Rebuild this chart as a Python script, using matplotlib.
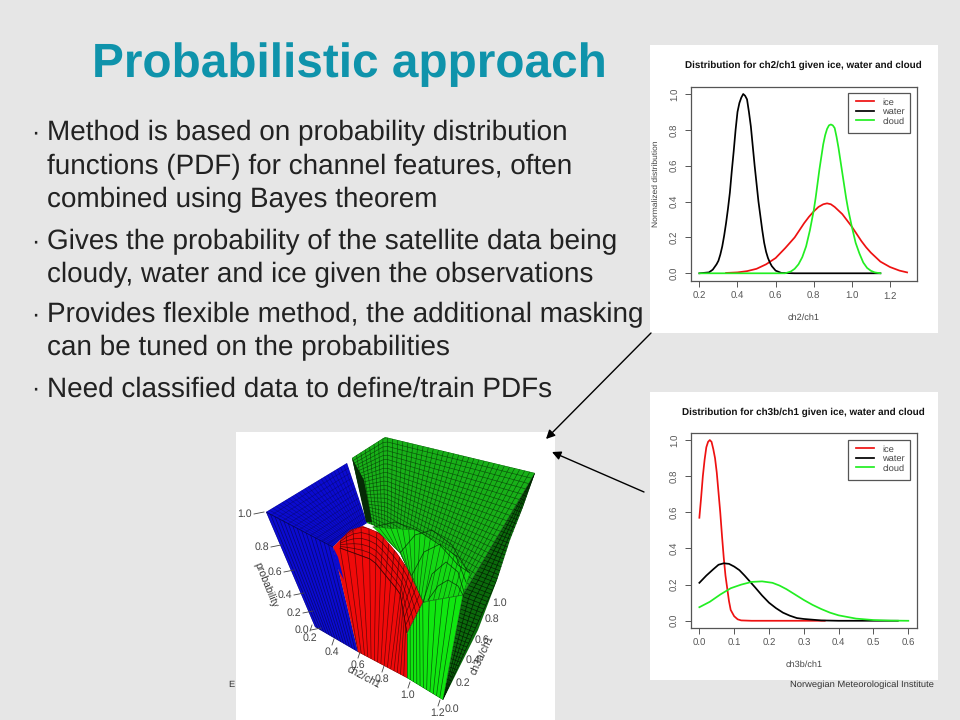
import numpy as np
import matplotlib
matplotlib.use("Agg")
import matplotlib.pyplot as plt
from matplotlib.patches import Polygon, Rectangle, FancyArrowPatch
from matplotlib.collections import LineCollection

plt.rcParams["font.family"] = ["Liberation Sans", "DejaVu Sans"]
plt.rcParams["text.hinting"] = "none"

## Slide text
titleText = "Probabilistic approach"
bodyLines = [
    ("\u00b7", "Method is based on probability distribution", 133),
    ("", "functions (PDF) for channel features, often", 167),
    ("", "combined using Bayes theorem", 200),
    ("\u00b7", "Gives the probability of the satellite data being", 242),
    ("", "cloudy, water and ice given the observations", 275),
    ("\u00b7", "Provides flexible method, the additional masking", 315),
    ("", "can be tuned on the probabilities", 348),
    ("\u00b7", "Need classified data to define/train PDFs", 389),
]

## Top chart, ch2/ch1
ch2Water_x = [0.2, 0.25, 0.27, 0.29, 0.3, 0.31, 0.32, 0.33, 0.34, 0.35, 0.36, 0.37, 0.38, 0.39, 0.4, 0.41, 0.42, 0.43, 0.44, 0.45, 0.46, 0.47, 0.48, 0.49, 0.5, 0.51, 0.52, 0.53, 0.54, 0.55, 0.56, 0.57, 0.58, 0.6, 0.63, 0.7, 1.15]
ch2Water_y = [0, 0.005, 0.02, 0.05, 0.07, 0.105, 0.15, 0.21, 0.28, 0.36, 0.45, 0.57, 0.68, 0.8, 0.9, 0.95, 0.98, 1.0, 0.99, 0.97, 0.9, 0.82, 0.71, 0.6, 0.5, 0.4, 0.32, 0.24, 0.17, 0.12, 0.085, 0.06, 0.04, 0.015, 0.002, 0, 0]
ch2Ice_x = [0.34, 0.4, 0.45, 0.5, 0.55, 0.6, 0.65, 0.7, 0.725, 0.75, 0.775, 0.8, 0.825, 0.85, 0.87, 0.89, 0.91, 0.93, 0.95, 0.975, 1.0, 1.025, 1.05, 1.075, 1.1, 1.15, 1.2, 1.25, 1.29]
ch2Ice_y = [0.002, 0.005, 0.012, 0.025, 0.05, 0.085, 0.14, 0.2, 0.24, 0.28, 0.315, 0.345, 0.37, 0.385, 0.39, 0.385, 0.37, 0.35, 0.33, 0.295, 0.26, 0.22, 0.18, 0.145, 0.115, 0.065, 0.035, 0.015, 0.005]
ch2Cloud_x = [0.2, 0.65, 0.68, 0.7, 0.72, 0.74, 0.76, 0.78, 0.8, 0.81, 0.82, 0.83, 0.84, 0.85, 0.86, 0.87, 0.88, 0.89, 0.9, 0.91, 0.92, 0.93, 0.94, 0.95, 0.96, 0.97, 0.98, 1.0, 1.02, 1.04, 1.06, 1.08, 1.1, 1.12, 1.15]
ch2Cloud_y = [0, 0, 0.01, 0.025, 0.05, 0.09, 0.15, 0.24, 0.35, 0.42, 0.5, 0.58, 0.65, 0.72, 0.77, 0.805, 0.825, 0.83, 0.825, 0.81, 0.76, 0.7, 0.63, 0.56, 0.49, 0.42, 0.36, 0.26, 0.17, 0.11, 0.06, 0.03, 0.014, 0.005, 0]

## Bottom chart, ch3b/ch1
ch3Ice_x = [0, 0.005, 0.01, 0.015, 0.02, 0.025, 0.03, 0.035, 0.04, 0.045, 0.05, 0.055, 0.06, 0.065, 0.07, 0.075, 0.08, 0.085, 0.09, 0.1, 0.11, 0.12, 0.15, 0.36]
ch3Ice_y = [0.57, 0.68, 0.8, 0.89, 0.96, 0.99, 1.0, 0.99, 0.95, 0.9, 0.82, 0.71, 0.6, 0.47, 0.35, 0.25, 0.18, 0.11, 0.06, 0.025, 0.008, 0.002, 0, 0]
ch3Water_x = [0, 0.02, 0.04, 0.055, 0.07, 0.085, 0.1, 0.115, 0.13, 0.16, 0.18, 0.2, 0.22, 0.24, 0.26, 0.28, 0.3, 0.35, 0.4, 0.57]
ch3Water_y = [0.21, 0.25, 0.285, 0.31, 0.318, 0.315, 0.3, 0.28, 0.25, 0.185, 0.14, 0.1, 0.07, 0.045, 0.028, 0.015, 0.01, 0.002, 0, 0]
ch3Cloud_x = [0, 0.03, 0.06, 0.09, 0.12, 0.15, 0.18, 0.21, 0.23, 0.25, 0.275, 0.3, 0.325, 0.35, 0.375, 0.4, 0.45, 0.5, 0.55, 0.6]
ch3Cloud_y = [0.075, 0.105, 0.145, 0.18, 0.2, 0.215, 0.218, 0.21, 0.195, 0.175, 0.145, 0.115, 0.088, 0.065, 0.045, 0.03, 0.012, 0.004, 0.001, 0]

## Tick labels of the 3D picture, as placed on the slide
probTicks = [("1.0", 245, 514), ("0.8", 262, 547), ("0.6", 275, 572), ("0.4", 285, 595), ("0.2", 294, 613), ("0.0", 302, 630)]
ch2Ticks = [("0.2", 310, 638), ("0.4", 332, 652), ("0.6", 358, 665), ("0.8", 382, 679), ("1.0", 408, 695), ("1.2", 438, 713)]
ch3Ticks = [("0.0", 452, 709), ("0.2", 463, 683), ("0.4", 473, 660), ("0.6", 482, 640), ("0.8", 492, 619), ("1.0", 500, 603)]

## Faces of the 3D picture, slide pixels
greenTop = [(352, 458), (385, 437), (535, 473), (463, 595), (423, 602), (400, 553), (375, 526), (367, 523)]
greenBright = [(373, 527), (417, 530), (447, 547), (470, 573), (463, 595), (423, 602), (400, 553)]
darkFace = [(535, 473), (523, 507), (510, 540), (497, 580), (478, 630), (463, 660), (443, 700), (463, 595)]
greenFront = [(407, 678), (443, 700), (463, 595), (423, 602), (407, 633)]
blueFace = [(266, 512), (347, 463), (367, 523), (340, 540), (333, 547), (358, 652), (315, 627)]
redFace = [(333, 547), (340, 540), (350, 530), (363, 526), (380, 533), (397, 553), (412, 575), (423, 602), (407, 633), (407, 678), (358, 652)]
blueSpike = [(333, 547), (338, 557), (344, 580), (337, 567)]
backWedge = [(352, 458), (364, 480), (372, 522), (366, 522)]

capUpper = [(340, 540), (350, 530), (363, 526), (380, 533), (397, 553), (412, 575), (423, 602)]
capLower = [(340, 548), (373, 560), (400, 593), (407, 633)]
redBottom = [(358, 652), (407, 678)]

greenArches = [
    [(373, 527), (395, 522), (417, 530), (440, 545), (458, 565), (470, 573)],
    [(400, 553), (415, 535), (432, 530), (452, 545), (468, 572)],
    [(412, 575), (424, 552), (440, 544), (456, 556), (466, 582)],
    [(423, 602), (432, 574), (446, 562), (458, 572), (464, 592)],
    [(428, 600), (438, 586), (448, 580), (458, 586), (463, 595)],
]


def resample(points, count):
    ## Evenly spaced points along a polyline
    points = np.array(points, dtype=float)
    lengths = np.r_[0, np.cumsum(np.hypot(*np.diff(points, axis=0).T))]
    positions = np.linspace(0, lengths[-1], count)
    return np.c_[np.interp(positions, lengths, points[:, 0]), np.interp(positions, lengths, points[:, 1])]


def drawRibbon(ax, edgeA, edgeB, nAcross, nAlong, color="black", width=0.45, alpha=0.75, clip=None, zorder=3):
    ## Mesh lines between two edges: nAcross rungs, nAlong rails
    a = resample(edgeA, nAcross)
    b = resample(edgeB, nAcross)
    segments = [[a[i], b[i]] for i in range(nAcross)]
    for fraction in np.linspace(0, 1, nAlong):
        segments.append(list(a + (b - a) * fraction))
    lines = LineCollection(segments, colors=color, linewidths=width, alpha=alpha, zorder=zorder)
    ax.add_collection(lines)
    if clip is not None: lines.set_clip_path(clip)


def drawChart(rectPixels, xLimits, yLimits, xTicks, series, titleLabel, xLabel, yLabel, titleX, titleY, legendY):
    left, top, right, bottom = rectPixels
    ax = fig.add_axes([left / 960, 1 - bottom / 720, (right - left) / 960, (bottom - top) / 720], zorder=5)
    for x, y, color, name in series:
        ax.plot(x, y, color=color, linewidth=1.25, label=name, solid_joinstyle="round")
    ax.set_xlim(xLimits)
    ax.set_ylim(yLimits)
    ax.set_xticks(xTicks)
    ax.set_yticks([0, 0.2, 0.4, 0.6, 0.8, 1.0])
    ax.set_xticklabels(["%.1f" % t for t in xTicks])
    ax.set_yticklabels(["0.0", "0.2", "0.4", "0.6", "0.8", "1.0"], rotation=90, va="center")
    ax.tick_params(axis="both", labelsize=6.9, colors="#555555", width=0.7, length=4, pad=4)
    for border in ["top", "bottom", "left", "right"]:
        ax.spines[border].set_linewidth(0.9)
        ax.spines[border].set_color("#555555")
    ## Legend box is its own rectangle, the entries sit closer to its right edge than its left
    ax.add_patch(Rectangle((848 / 960, 1 - (legendY + 40) / 720), 62 / 960, 40 / 720, transform=fig.transFigure,
                           facecolor="white", edgecolor="#555555", linewidth=0.9, zorder=4))
    legend = ax.legend(loc="upper right", bbox_to_anchor=(910 / 960, 1 - legendY / 720), bbox_transform=fig.transFigure,
                       fontsize=6.7, frameon=False, borderaxespad=0,
                       handlelength=1.95, handletextpad=0.85, labelspacing=0.12, borderpad=0.54)
    for text in legend.get_texts(): text.set_color("#444444")
    fig.text(titleX / 960, 1 - titleY / 720, titleLabel, fontsize=7.1, fontweight="bold", color="#111111", ha="left", va="center")
    fig.text(804 / 960, 1 - (bottom + 37) / 720, xLabel, fontsize=6.6, color="#444444", ha="center", va="center")
    if yLabel:
        fig.text(656 / 960, 1 - (top + bottom) / 2 / 720, yLabel, fontsize=6.1, color="#444444", rotation=90, ha="center", va="center")
    return ax


fig = plt.figure(figsize=(9.6, 7.2), dpi=100, facecolor="#e6e6e6")
slide = fig.add_axes([0, 0, 1, 1])
slide.set_xlim(0, 960)
slide.set_ylim(720, 0)
slide.axis("off")

slide.text(92, 65, titleText, fontsize=34.4, fontweight="bold", color="#0f93ab", ha="left", va="center")
for bullet, line, yBase in bodyLines:
    if bullet: slide.text(31, yBase, bullet, fontsize=18, color="#222222", ha="left", va="center")
    slide.text(47, yBase, line, fontsize=20.1, color="#222222", ha="left", va="center")

## White panels behind the pictures
slide.add_patch(Rectangle((650, 45), 288, 288, facecolor="white", edgecolor="none", zorder=1))
slide.add_patch(Rectangle((650, 392), 288, 288, facecolor="white", edgecolor="none", zorder=1))
slide.add_patch(Rectangle((236, 432), 319, 288, facecolor="white", edgecolor="none", zorder=1))

## Footer
slide.text(228, 685, "E", fontsize=6.7, color="#333333", ha="left", va="center")
slide.text(790, 685, "Norwegian Meteorological Institute", fontsize=6.77, color="#333333", ha="left", va="center", zorder=2)

## Arrows to the 3D picture
for start, end in [((651, 333), (546, 439)), ((644, 492), (552, 452))]:
    slide.add_patch(FancyArrowPatch(start, end, arrowstyle="-|>", mutation_scale=13, color="black", linewidth=1.0, shrinkA=0, shrinkB=0, zorder=6))

## 3D surface drawn flat on the slide
patchGreenTop = Polygon(greenTop, facecolor="#18b018", edgecolor="none", zorder=2)
patchDark = Polygon(darkFace, facecolor="#0b6a0b", edgecolor="none", zorder=2)
patchFront = Polygon(greenFront, facecolor="#10e610", edgecolor="none", zorder=2)
patchBlue = Polygon(blueFace, facecolor="#0b0bd0", edgecolor="none", zorder=2)
patchRed = Polygon(redFace, facecolor="#f00a0a", edgecolor="none", zorder=2)
for patch in [patchGreenTop, patchDark, patchFront, patchBlue, patchRed]: slide.add_patch(patch)
patchBright = Polygon(greenBright, facecolor="#14d814", edgecolor="none", zorder=2.5)
slide.add_patch(patchBright)

drawRibbon(slide, [(352, 458), (385, 437), (535, 473)], [(367, 523), (463, 595)], 38, 24, color="#063a06", width=0.45, alpha=0.8, clip=patchGreenTop, zorder=2.2)
drawRibbon(slide, [(373, 527), (417, 530), (447, 547), (470, 573)], [(400, 553), (423, 602), (463, 595)], 20, 2, color="#064006", width=0.45, alpha=0.8, clip=patchBright)
for arch in greenArches:
    slide.plot(*zip(*arch), color="#063006", linewidth=0.55, alpha=0.85, zorder=3)
drawRibbon(slide, [(407, 633), (423, 602), (463, 595)], [(407, 678), (443, 700)], 12, 2, color="#064006", width=0.5, alpha=0.85, clip=patchFront)
drawRibbon(slide, [(535, 473), (463, 595), (443, 700)], [(535, 473), (497, 580), (443, 700)], 60, 5, color="#021802", width=0.5, alpha=0.9, clip=patchDark)
drawRibbon(slide, [(266, 512), (347, 463)], [(333, 547), (367, 523)], 26, 13, color="#06065a", width=0.4, alpha=0.6, clip=patchBlue)
drawRibbon(slide, [(266, 512), (333, 547)], [(315, 627), (358, 652)], 16, 2, color="#060640", width=0.5, alpha=0.7, clip=patchBlue)
drawRibbon(slide, capLower, redBottom, 16, 2, color="#500505", width=0.5, alpha=0.85, clip=patchRed)
drawRibbon(slide, capUpper, capLower, 16, 6, color="#400404", width=0.5, alpha=0.85, clip=patchRed)

## Thin dark wedge at the back, blue spike in the red part
slide.add_patch(Polygon(backWedge, facecolor="#062a06", edgecolor="none", zorder=3))
slide.add_patch(Polygon(blueSpike, facecolor="#0b0bd0", edgecolor="none", zorder=3.2))

for label, x, y in probTicks + ch2Ticks + ch3Ticks:
    slide.text(x, y, label, fontsize=7.6, color="#444444", ha="center", va="center", zorder=4)
for label, x, y in probTicks:
    slide.plot([x + 9, x + 19], [y, y - 2], color="#444444", linewidth=0.6, zorder=3.5)
for label, x, y in ch2Ticks:
    slide.plot([x, x + 2], [y - 7, y - 13], color="#444444", linewidth=0.6, zorder=3.5)
slide.text(265, 585, "probability", fontsize=7.6, color="#333333", rotation=-68, ha="center", va="center", zorder=4)
slide.text(363, 678, "ch2/ch1", fontsize=7.6, color="#333333", rotation=-28, ha="center", va="center", zorder=4)
slide.text(483, 655, "ch3a/ch1", fontsize=7.6, color="#333333", rotation=65, ha="center", va="center", zorder=4)
slide.set_xlim(0, 960)
slide.set_ylim(720, 0)

topSeries = [(ch2Ice_x, ch2Ice_y, "#ee1111", "ice"), (ch2Water_x, ch2Water_y, "black", "water"), (ch2Cloud_x, ch2Cloud_y, "#22ee22", "cloud")]
bottomSeries = [(ch3Ice_x, ch3Ice_y, "#ee1111", "ice"), (ch3Water_x, ch3Water_y, "black", "water"), (ch3Cloud_x, ch3Cloud_y, "#22ee22", "cloud")]

drawChart((691, 87, 917, 281), (0.156, 1.342), (-0.043, 1.039), [0.2, 0.4, 0.6, 0.8, 1.0, 1.2], topSeries,
          "Distribution for ch2/ch1 given ice, water and cloud", "ch2/ch1", "Normalized distribution", 685, 65, 93)
drawChart((691, 433, 917, 628), (-0.024, 0.625), (-0.040, 1.039), [0.0, 0.1, 0.2, 0.3, 0.4, 0.5, 0.6], bottomSeries,
          "Distribution for ch3b/ch1 given ice, water and cloud", "ch3b/ch1", "", 682, 412, 440)

fig.savefig("out.png", dpi=100, facecolor=fig.get_facecolor())
